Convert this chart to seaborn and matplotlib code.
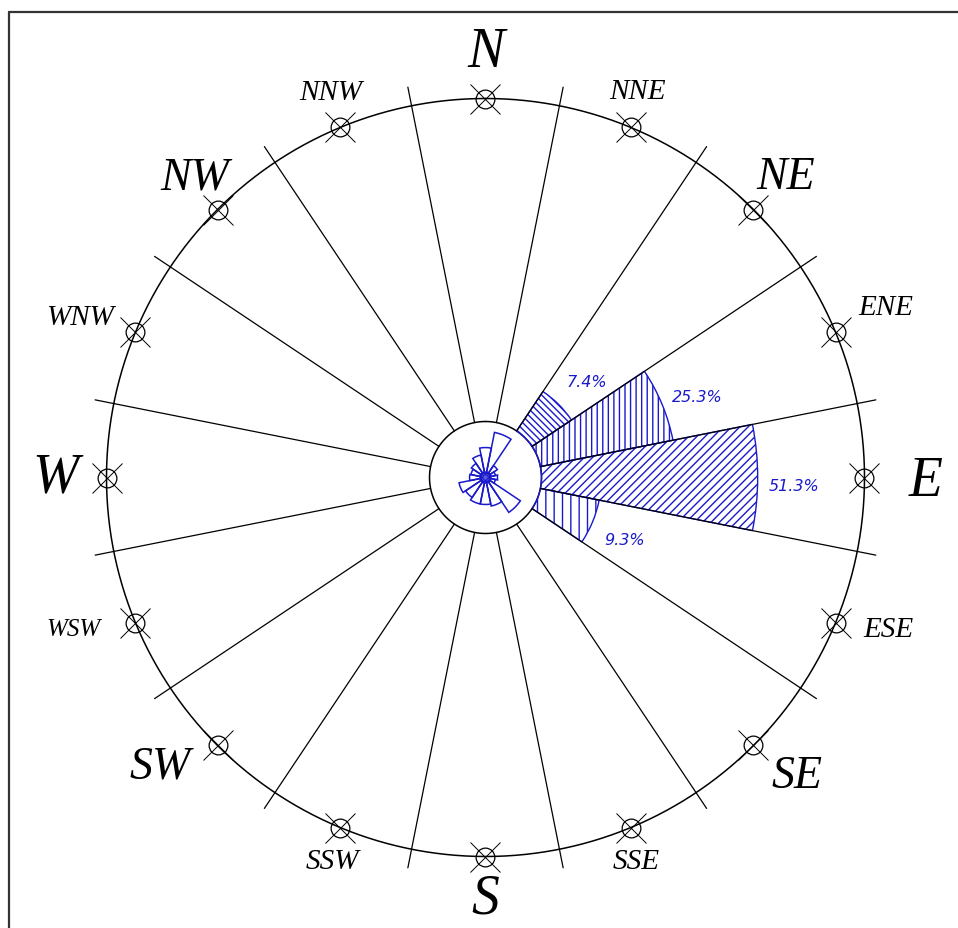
import numpy as np
import matplotlib.pyplot as plt
from matplotlib.lines import Line2D
import seaborn as sns

# 16 compass directions and the share of wind from each (%)
directions = ['N', 'NNE', 'NE', 'ENE', 'E', 'ESE', 'SE', 'SSE',
              'S', 'SSW', 'SW', 'WSW', 'W', 'WNW', 'NW', 'NNW']
percent = [0, 0, 7.4, 25.3, 51.3, 9.3, 0, 0,
           0, 0, 0, 0, 0, 0, 0, 0]
hatches = ['', '', '\\' * 5, '|||', '////', '||', '', '',
           '', '', '', '', '', '', '', '']
# small rose drawn inside the calm circle (%)
mini_percent = [5.3, 12.5, 1.2, 0.6, 0.85, 0.6, 10.4, 5.0,
                4.3, 4.3, 3.4, 4.3, 1.5, 1.3, 1.7, 3.1]

sns.set_theme(style='white')
plt.rcParams['font.family'] = ['DejaVu Sans']

W, H = 958, 929
cx, cy = 485.5, 478.5
rmax = 440
R_CIRCLE = 379
R_CALM = 56
R_LINE = 398
SCALE = 38      # radius = SCALE * sqrt(percent)
MINI_SCALE = 13
BLUE = '#1a1acc'

# label placement around the ring: (radius px, angle deg, font size)
label_pos = {
    'N': (426, 0, 40), 'NNE': (415, 21.5, 21), 'NE': (425, 45, 33),
    'ENE': (435, 66.9, 21), 'E': (440, 90.5, 40), 'ESE': (430, 110.6, 21),
    'SE': (431, 133.7, 33), 'SSE': (412, 158.6, 21), 'S': (421, 180, 40),
    'SSW': (413, 201.8, 21), 'SW': (435, 228.4, 33), 'WSW': (439, 249.8, 18),
    'W': (430, 270, 40), 'WNW': (436, 291.6, 21), 'NW': (418, 316, 33),
    'NNW': (416, 338.1, 21),
}

fig = plt.figure(figsize=(W / 100, H / 100), dpi=100)
fig.patch.set_facecolor('white')
ax = fig.add_axes([(cx - rmax) / W, (H - cy - rmax) / H, 2 * rmax / W, 2 * rmax / H],
                  projection='polar')
ax.set_theta_zero_location('N')
ax.set_theta_direction(-1)
ax.set_ylim(0, rmax)
ax.set_axis_off()

step = 2 * np.pi / 16
theta = np.arange(16) * step

# outer circle and calm circle
t = np.linspace(0, 2 * np.pi, 721)
sns.lineplot(x=t, y=np.full_like(t, R_CIRCLE), ax=ax, color='black', lw=1.1, sort=False)
ax.plot(t, np.full_like(t, R_CALM), color='black', lw=1.1)

# sector boundary lines
for b in theta + step / 2:
    ax.plot([b, b], [R_CALM, R_LINE], color='black', lw=0.9, zorder=4)

# direction markers
ax.plot(theta, np.full(16, R_CIRCLE), ls='none', marker='o', mfc='none', mec='black',
        ms=13.5, mew=0.9, zorder=5)
ax.plot(theta, np.full(16, R_CIRCLE), ls='none', marker='x', color='black',
        ms=21, mew=0.7, zorder=5)

# main sectors
pct = np.array(percent)
for th, p, h in zip(theta, pct, hatches):
    if p <= 0:
        continue
    top = SCALE * np.sqrt(p)
    ax.bar(th, top - R_CALM, width=step, bottom=R_CALM, fill=False,
           edgecolor=BLUE, hatch=h, lw=1.0, zorder=3)
    ax.text(th + np.radians(1.5), top + 36, f'{p:.1f}%', color=BLUE,
            fontsize=11.5, style='italic', ha='center', va='center')

# small rose inside the calm circle
mini = MINI_SCALE * np.sqrt(np.array(mini_percent))
ax.bar(theta, mini - 5, width=step, bottom=5, fill=False, edgecolor=BLUE, lw=1.1, zorder=3)
ax.bar(theta, np.full(16, 6), width=step, bottom=0, color=BLUE, lw=0, zorder=3)
for b in theta + step / 2:
    ax.plot([b, b], [4, 13], color=BLUE, lw=0.7, zorder=3)

# direction labels
for name in directions:
    r, ang, size = label_pos[name]
    ax.text(np.radians(ang), r, name, fontsize=size, style='italic',
            family='Liberation Serif', ha='center', va='center', color='black')

# frame
fig.add_artist(Line2D([9 / W, 1], [1 - 13 / H, 1 - 13 / H], transform=fig.transFigure,
                      color='#333333', lw=1.6))
fig.add_artist(Line2D([9 / W, 9 / W], [0, 1 - 13 / H], transform=fig.transFigure,
                      color='#333333', lw=1.6))

fig.savefig('out.png', dpi=100, facecolor='white')
